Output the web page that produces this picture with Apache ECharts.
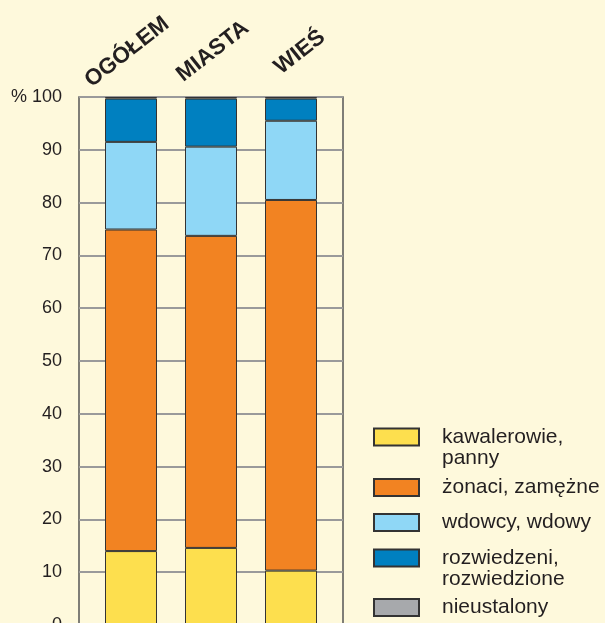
<!DOCTYPE html>
<html>
<head>
<meta charset="utf-8">
<script src="https://cdn.jsdelivr.net/npm/echarts@6/dist/echarts.min.js"></script>
<style>
html,body{margin:0;padding:0;background:#FEF9DC;}
#c{width:605px;height:623px;}
</style>
</head>
<body>
<div id="c"></div>
<script>
const categories = ['OGÓŁEM', 'MIASTA', 'WIEŚ'];
const seriesNames = ['kawalerowie,\npanny', 'żonaci, zamężne', 'wdowcy, wdowy', 'rozwiedzeni,\nrozwiedzione', 'nieustalony'];
const kawalerowie = [14.0, 14.6, 10.3];
const zonaci = [60.9, 59.1, 70.2];
const wdowcy = [16.6, 16.9, 15.0];
const rozwiedzeni = [8.2, 9.1, 4.2];
const nieustalony = [0.3, 0.3, 0.3];
const yTicks = { min: 0, max: 100, interval: 10 };
const colors = ['#FDDF4E', '#F28322', '#8FD7F6', '#0080C0', '#A7A9AC'];

const font = 'Liberation Sans, Arial, sans-serif';
const values = [kawalerowie, zonaci, wdowcy, rozwiedzeni, nieustalony];

const series = values.map((v, i) => ({
  name: seriesNames[i],
  type: 'bar',
  stack: 'total',
  xAxisIndex: 1,
  yAxisIndex: 1,
  barWidth: 52,
  data: v,
  itemStyle: { color: colors[i], borderColor: '#333', borderWidth: 1 }
}));

const iconTops = [428, 479, 514, 549, 599];
const legends = seriesNames.map((n, i) => {
  const two = n.indexOf('\n') >= 0;
  return {
    orient: 'vertical',
    left: 373,
    top: two ? iconTops[i] - 22.5 : iconTops[i] - 2,
    padding: 0,
    icon: 'rect',
    itemWidth: 45,
    itemHeight: 17,
    selectedMode: false,
    data: [n],
    formatter: name => (name.indexOf('\n') >= 0 ? ' \n' + name : name),
    textStyle: {
      fontFamily: font, fontSize: 21, lineHeight: 21, color: '#231F20',
      padding: [0, 0, 0, 18]
    }
  };
});

const catLabelStyle = [
  { verticalAlign: 'middle', padding: [0, 10, 0, 0] },
  { verticalAlign: 'top', lineHeight: 6, padding: [0, 0, 0, 0] },
  { verticalAlign: 'top', lineHeight: 16, padding: [0, 0, 0, 10] }
];
const catData = categories.map((c, i) => ({
  value: c,
  textStyle: Object.assign({
    align: 'center',
    fontFamily: font, fontWeight: 'bold', fontSize: 22.5, color: '#231F20'
  }, catLabelStyle[i])
}));

const chart = echarts.init(document.getElementById('c'));
chart.setOption({
  backgroundColor: '#FEF9DC',
  animation: false,
  legend: legends,
  grid: [
    { left: 79, width: 264, top: 97, height: 528, outerBoundsMode: 'none', containLabel: false,
      show: true, borderColor: '#555', borderWidth: 1.5, backgroundColor: 'transparent' },
    { left: 91, width: 240, top: 97, height: 528, outerBoundsMode: 'none', containLabel: false }
  ],
  xAxis: [
    { gridIndex: 0, type: 'value', show: false, min: 0, max: 1 },
    { gridIndex: 1, type: 'category', data: catData, position: 'top',
      axisLine: { show: false }, axisTick: { show: false },
      axisLabel: { rotate: 38, margin: 48, align: 'center', verticalAlign: 'middle',
        fontFamily: font, fontWeight: 'bold', fontSize: 22.5, color: '#231F20' } }
  ],
  yAxis: [
    { gridIndex: 0, type: 'value', min: yTicks.min, max: yTicks.max, interval: yTicks.interval,
      axisLine: { show: false }, axisTick: { show: false },
      splitLine: { show: true, lineStyle: { color: '#9A9A9A', width: 2 } },
      axisLabel: { margin: 17, fontFamily: font, fontSize: 18, color: '#231F20',
        formatter: v => v === 100 ? '% 100' : String(v) } },
    { gridIndex: 1, type: 'value', min: yTicks.min, max: yTicks.max, show: false, splitLine: { show: false } }
  ],
  series: series
});
</script>
</body>
</html>
